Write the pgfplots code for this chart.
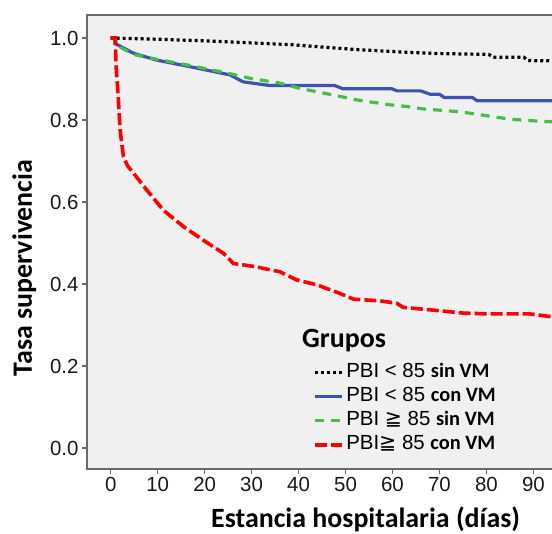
\documentclass[border=0pt]{standalone}
\usepackage{pgfplots}
\pgfplotsset{compat=1.18}
\usepackage{fontspec}
\setmainfont{Liberation Sans}
\newfontfamily\calfont{Carlito}
\newfontfamily\dejavu{DejaVu Sans}
\definecolor{axgray}{RGB}{105,105,105}
\definecolor{bgray}{RGB}{240,240,240}
\definecolor{kmblue}{RGB}{62,82,178}
\definecolor{kmgreen}{RGB}{70,190,70}
\definecolor{kmred}{RGB}{255,0,0}
\newcommand\B[1]{{\calfont\bfseries #1}}
\begin{document}
\begin{tikzpicture}
\begin{axis}[name=ax, scale only axis, width=557.2bp, height=454bp,
  xmin=-5.047, xmax=113.6, ymin=-0.0512, ymax=1.0561,
  axis background/.style={fill=bgray},
  axis line style={draw=axgray, line width=1.8bp},
  xtick={0,10,20,30,40,50,60,70,80,90}, ytick={0,0.2,0.4,0.6,0.8,1.0},
  yticklabel style={/pgf/number format/.cd, fixed, fixed zerofill, precision=1},
  tick align=outside, xtick pos=bottom, ytick pos=left,
  major tick length=5bp,
  tick style={draw=axgray, line width=1.5bp},
  ticklabel style={font=\fontsize{20.5}{24}\selectfont, text=black!90},
  /pgf/number format/assume math mode=true,
  xlabel={\B{Estancia hospitalaria (días)}},
  xlabel style={font=\fontsize{28}{32}\selectfont, at={([yshift=-58bp]rel axis cs:0.5,0)}, anchor=base},
  ylabel={\B{Tasa supervivencia}},
  ylabel style={font=\fontsize{28}{32}\selectfont, at={([xshift=-55bp]rel axis cs:0,0.443)}, anchor=base},
  legend style={at={(axis description cs:0.4056,0.2386)}, anchor=north west, draw=none, fill=none,
    font=\fontsize{20.5}{24}\selectfont, inner sep=0pt, row sep=0pt,
    nodes={inner xsep=2.5bp, inner ysep=2bp, text height=15bp, text depth=5bp}},
  legend cell align=left,
  legend image code/.code={\draw[#1] (0bp,0bp) -- (27bp,0bp);},
]
\addplot[black, line width=3.2bp, dash pattern=on 3bp off 3bp] coordinates {
(0,1.0) (10,0.997) (20,0.993) (30,0.988) (38,0.984) (45,0.978) (52,0.972) (61.6,0.966) (70,0.962) (80.5,0.960) (81.5,0.953) (88,0.953) (88.8,0.945) (95,0.944) (115,0.943)};
\addlegendentry{PBI < 85 \B{sin VM}}
\addplot[kmblue, line width=3.2bp] coordinates {
(0,1.0) (0.8,1.0) (0.9,0.987) (4.8,0.963) (9.8,0.946) (16.9,0.930) (25.4,0.910) (28.2,0.893) (33.9,0.884) (47.7,0.884) (49.5,0.876) (59.9,0.876) (61,0.871) (66,0.871) (68,0.863) (70,0.863) (71,0.855) (77,0.855) (78,0.847) (115,0.847)};
\addlegendentry{PBI < 85 \B{con VM}}
\addplot[kmgreen, line width=3.2bp, dash pattern=on 9bp off 7bp] coordinates {
(0,1.0) (0.8,1.0) (0.9,0.985) (4.8,0.960) (9.8,0.948) (16.9,0.933) (25.4,0.913) (30,0.901) (36,0.890) (40.3,0.877) (47.4,0.861) (52.4,0.849) (59.5,0.837) (63,0.833) (66.5,0.827) (70,0.824) (74.4,0.820) (78,0.814) (81.5,0.808) (85,0.802) (90,0.798) (95,0.795) (115,0.793)};
\addlegendentry{PBI {\dejavu ≧} 85 \B{sin VM}}
\addplot[kmred, line width=3.6bp, dash pattern=on 12bp off 4bp] coordinates {
(0,1.0) (1.0,1.0) (1.1,0.94) (1.6,0.857) (2.0,0.776) (2.7,0.711) (3.6,0.688) (4.8,0.671) (7.7,0.629) (11.2,0.580) (15.5,0.540) (19.7,0.507) (24,0.475) (25.4,0.459) (26.1,0.450) (31,0.442) (32.5,0.438) (36,0.430) (39.6,0.410) (43.9,0.398) (48.8,0.377) (51.7,0.363) (57.3,0.359) (60.9,0.353) (62.3,0.343) (68,0.337) (75.1,0.329) (80.8,0.327) (89.3,0.327) (94,0.320) (115,0.318)};
\addlegendentry{PBI{\dejavu ≧} 85 \B{con VM}}
\node[anchor=base west, inner sep=0pt, font=\fontsize{28}{32}\selectfont] at (axis description cs:0.3859,0.2687) {\B{Grupos}};
\end{axis}
\pgfresetboundingbox
\path[use as bounding box] ([xshift=-87bp,yshift=-65bp]ax.south west) rectangle ([xshift=465bp,yshift=15bp]ax.north west);
\end{tikzpicture}
\end{document}
